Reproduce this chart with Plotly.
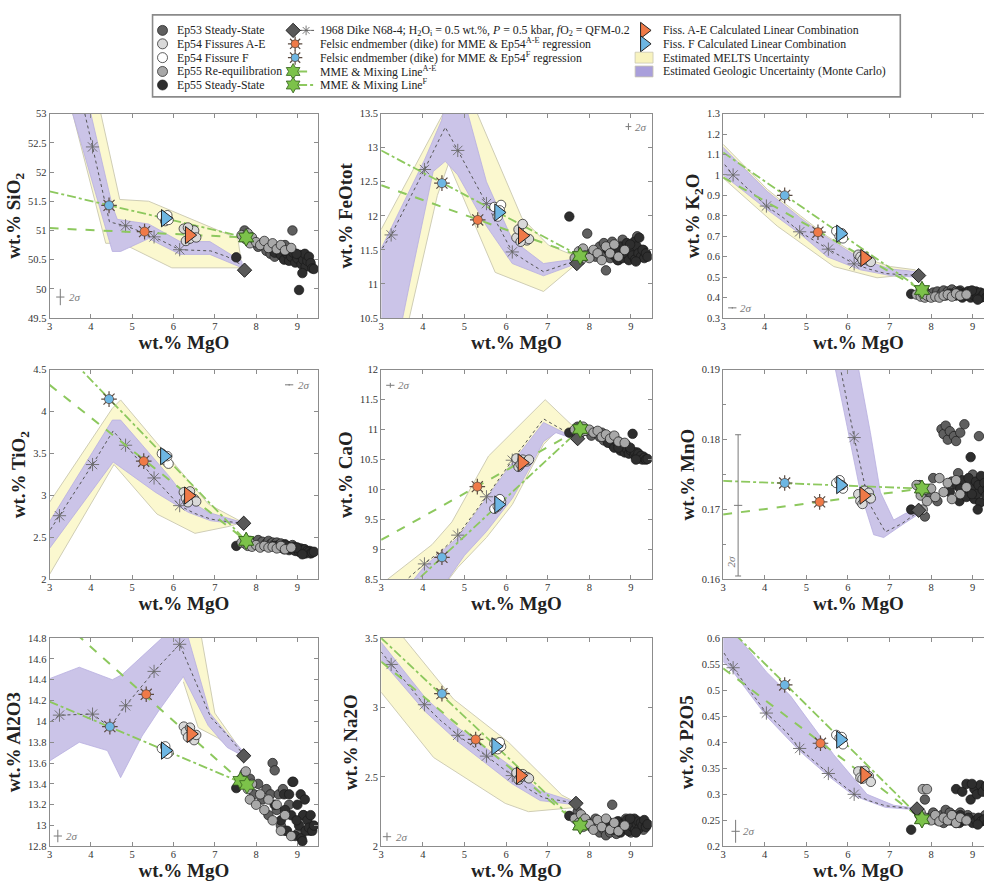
import plotly.graph_objects as go

W, H = 1000, 886
SERIF = "Liberation Serif"

# ---------------- shared MgO (x) values ----------------
MGO_EP55SS = [7.52, 8.45, 8.60, 8.68, 8.75, 8.80, 8.85, 8.90, 8.95, 9.00, 9.04, 9.08,
              9.10, 9.14, 9.18, 9.20, 9.24, 9.28, 9.32, 9.36, 9.40, 8.70, 8.98, 9.12]
MGO_EP53 = [7.72, 7.85, 7.95, 8.05, 8.15, 8.25, 8.30, 8.35, 8.40, 8.45,
            8.50, 8.55, 8.60, 8.65, 8.70, 8.80, 8.88, 9.00, 9.15, 9.30]
MGO_EP55RE = [7.65, 7.75, 7.80, 7.85, 7.90, 8.00, 8.10, 8.20, 8.30, 8.40, 8.50, 8.60, 8.70, 8.85]
MGO_EP54AE = [6.25, 6.30, 6.40, 6.50, 6.55, 6.35]
MGO_EP54F = [5.72, 5.80, 5.88, 5.85]
MGO_MELTS = [7.72, 7.30, 6.90, 6.50, 6.15, 5.53, 4.84, 4.54, 4.45, 4.04, 3.24, 3.00]
MELTS_CROSS_IDX = [4, 5, 6, 9, 10]
MGO_MIX_START = 3.0
X_TICKS = [3, 4, 5, 6, 7, 8, 9]

# ---------------- SiO2 ----------------
SIO2_EP55SS = [50.54, 50.62, 50.58, 50.50, 50.60, 50.48, 50.55, 50.62, 50.45, 50.52, 49.98, 50.58,
               50.42, 50.50, 50.60, 50.38, 50.48, 50.55, 50.44, 50.35, 50.34, 50.65, 50.60, 50.27]
SIO2_EP53 = [51.00, 50.85, 50.80, 50.72, 50.78, 50.65, 50.75, 50.60, 50.70, 50.55,
             50.72, 50.62, 50.68, 50.55, 50.75, 50.60, 51.00, 50.50, 50.55, 50.45]
SIO2_EP55RE = [50.92, 50.85, 50.95, 50.78, 50.88, 50.80, 50.75, 50.82, 50.70, 50.78, 50.68, 50.75, 50.66, 50.70]
SIO2_EP54AE = [51.03, 50.82, 50.86, 51.00, 50.88, 51.05]
SIO2_EP54F = [51.25, 51.16, 51.18, 51.26]
SIO2_MELTS = [50.38, 50.55, 50.65, 50.66, 50.67, 50.89, 51.08, 51.13, 51.15, 52.43, 54.90, 55.60]
SIO2_YEL_X = [3.93, 4.70, 5.40, 7.56, 7.66, 5.96, 4.76, 4.36, 3.20]
SIO2_YEL_Y = [54.0, 51.53, 51.50, 50.86, 50.36, 50.36, 50.78, 50.78, 54.0]
SIO2_PUR_X = [3.67, 4.52, 4.64, 5.40, 6.16, 6.88, 7.66, 7.66, 6.88, 6.16, 5.40, 4.72, 4.52, 3.15]
SIO2_PUR_Y = [54.0, 51.42, 51.19, 51.11, 50.81, 50.81, 50.47, 50.36, 50.59, 50.59, 50.86, 50.64, 50.64, 54.0]
SIO2_MIX_AE = [51.04, 50.88]
SIO2_MIX_F = [51.67, 50.88]
SIO2_MME_AE = [7.76, 50.88]
SIO2_MME_F = [7.76, 50.88]
SIO2_FELSIC_AE = [5.30, 50.98]
SIO2_FELSIC_F = [4.44, 51.43]
SIO2_TRI_AE = [6.38, 50.92]
SIO2_TRI_F = [5.80, 51.21]
SIO2_DIKE = [7.72, 50.32]
SIO2_ERR = [3.26, 49.86, 0.10, 0.14]
SIO2_ERR_LABEL = [3.42, 49.86]
SIO2_TICKS = [49.5, 50, 50.5, 51, 51.5, 52, 52.5, 53]

# ---------------- FeOtot ----------------
FEO_EP55SS = [11.99, 11.50, 11.42, 11.35, 11.55, 11.38, 11.45, 11.60, 11.35, 11.50, 11.42, 11.62,
              11.36, 11.55, 11.45, 11.68, 11.40, 11.50, 11.38, 11.45, 11.40, 11.48, 11.58, 11.33]
FEO_EP53 = [11.35, 11.42, 11.74, 11.45, 11.40, 11.55, 11.42, 11.60, 11.20, 11.50,
            11.38, 11.62, 11.45, 11.55, 11.35, 11.65, 11.42, 11.55, 11.70, 11.50]
FEO_EP55RE = [11.38, 11.48, 11.35, 11.52, 11.42, 11.38, 11.50, 11.45, 11.35, 11.55, 11.45, 11.58, 11.40, 11.50]
FEO_EP54AE = [11.68, 11.80, 11.88, 11.64, 11.66, 11.62]
FEO_EP54F = [12.13, 11.99, 12.16, 12.08]
FEO_MELTS = [11.35, 11.26, 11.18, 11.33, 11.47, 12.18, 12.96, 13.30, 13.19, 12.68, 11.72, 11.50]
FEO_YEL_X = [3.00, 4.50, 4.75, 5.10, 6.38, 7.02, 7.70, 7.70, 6.90, 5.74, 4.62, 4.35, 3.60, 3.00]
FEO_YEL_Y = [11.80, 13.50, 13.80, 13.80, 11.97, 11.57, 11.40, 11.30, 10.89, 11.17, 12.77, 12.30, 10.30, 10.30]
FEO_PUR_X = [3.00, 3.24, 4.04, 4.45, 4.60, 4.95, 5.53, 6.15, 6.90, 7.70, 7.70, 6.90, 6.15, 5.53, 4.84, 4.54, 4.25, 3.75, 3.45, 3.00]
FEO_PUR_Y = [11.52, 11.82, 12.82, 13.40, 13.80, 13.80, 12.50, 11.65, 11.30, 11.37, 11.30, 11.12, 11.30, 11.85, 12.60, 12.80, 12.65, 11.20, 10.30, 10.30]
FEO_MIX_AE = [12.45, 11.41]
FEO_MIX_F = [12.96, 11.41]
FEO_MME_AE = [7.78, 11.41]
FEO_MME_F = [7.78, 11.41]
FEO_FELSIC_AE = [5.32, 11.94]
FEO_FELSIC_F = [4.46, 12.48]
FEO_TRI_AE = [6.39, 11.71]
FEO_TRI_F = [5.82, 12.05]
FEO_DIKE = [7.70, 11.30]
FEO_ERR = [8.94, 13.31, 0.07, 0.05]
FEO_ERR_LABEL = [9.06, 13.31]
FEO_TICKS = [10.5, 11, 11.5, 12, 12.5, 13, 13.5]

# ---------------- K2O ----------------
K2O_EP55SS = [0.418, 0.420, 0.410, 0.430, 0.400, 0.420, 0.410, 0.430, 0.400, 0.420, 0.410, 0.430,
              0.400, 0.415, 0.425, 0.400, 0.410, 0.420, 0.400, 0.405, 0.395, 0.415, 0.435, 0.390]
K2O_EP53 = [0.420, 0.430, 0.415, 0.425, 0.430, 0.420, 0.435, 0.410, 0.430, 0.420,
            0.440, 0.420, 0.430, 0.415, 0.435, 0.420, 0.430, 0.410, 0.420, 0.410]
K2O_EP55RE = [0.415, 0.405, 0.420, 0.400, 0.410, 0.400, 0.405, 0.400, 0.410, 0.415, 0.405, 0.420, 0.410, 0.415]
K2O_EP54AE = [0.610, 0.600, 0.600, 0.580, 0.575, 0.585]
K2O_EP54F = [0.725, 0.700, 0.690, 0.715]
K2O_MELTS = [0.510, 0.512, 0.518, 0.540, 0.565, 0.637, 0.722, 0.775, 0.790, 0.848, 1.000, 1.060]
K2O_YEL_X = [3.00, 4.06, 4.86, 5.50, 6.30, 7.02, 7.62, 7.62, 7.10, 6.70, 5.66, 4.30, 3.00]
K2O_YEL_Y = [1.150, 0.930, 0.800, 0.700, 0.600, 0.552, 0.536, 0.513, 0.505, 0.497, 0.552, 0.750, 0.985]
K2O_PUR_X = [3.00, 4.06, 4.86, 5.50, 6.30, 7.02, 7.62, 7.62, 7.02, 6.30, 5.50, 4.86, 4.06, 3.00]
K2O_PUR_Y = [1.135, 0.920, 0.790, 0.694, 0.590, 0.540, 0.528, 0.500, 0.508, 0.536, 0.600, 0.710, 0.830, 1.000]
K2O_MIX_AE = [0.988, 0.437]
K2O_MIX_F = [1.110, 0.437]
K2O_MME_AE = [7.78, 0.437]
K2O_MME_F = [7.78, 0.437]
K2O_FELSIC_AE = [5.28, 0.720]
K2O_FELSIC_F = [4.48, 0.900]
K2O_TRI_AE = [6.40, 0.594]
K2O_TRI_F = [5.82, 0.713]
K2O_DIKE = [7.70, 0.508]
K2O_ERR = [3.22, 0.350, 0.10, 0.004]
K2O_ERR_LABEL = [3.36, 0.350]
K2O_TICKS = [0.3, 0.4, 0.5, 0.6, 0.7, 0.8, 0.9, 1.0, 1.1, 1.2, 1.3]

# ---------------- TiO2 ----------------
TIO2_EP55SS = [2.40, 2.40, 2.38, 2.36, 2.40, 2.35, 2.37, 2.39, 2.34, 2.36, 2.33, 2.37,
               2.32, 2.35, 2.36, 2.31, 2.34, 2.33, 2.31, 2.32, 2.33, 2.41, 2.38, 2.30]
TIO2_EP53 = [2.45, 2.46, 2.44, 2.47, 2.45, 2.43, 2.46, 2.42, 2.44, 2.42,
             2.44, 2.41, 2.43, 2.40, 2.42, 2.39, 2.41, 2.38, 2.36, 2.34]
TIO2_EP55RE = [2.44, 2.42, 2.40, 2.44, 2.39, 2.41, 2.38, 2.40, 2.38, 2.39, 2.37, 2.40, 2.36, 2.38]
TIO2_EP54AE = [3.04, 2.97, 3.05, 2.96, 2.93, 2.92]
TIO2_EP54F = [3.50, 3.42, 3.38, 3.47]
TIO2_MELTS = [2.67, 2.69, 2.72, 2.79, 2.88, 3.21, 3.60, 3.77, 3.70, 3.37, 2.76, 2.58]
TIO2_YEL_X = [3.00, 4.52, 4.72, 6.84, 7.60, 7.60, 7.32, 6.52, 5.60, 4.56, 3.00]
TIO2_YEL_Y = [2.92, 4.04, 4.14, 2.90, 2.70, 2.67, 2.63, 2.55, 2.78, 3.37, 2.06]
TIO2_PUR_X = [3.00, 4.52, 4.72, 5.88, 6.32, 6.84, 7.60, 7.60, 6.90, 6.36, 5.56, 4.54, 3.00]
TIO2_PUR_Y = [2.69, 3.90, 3.90, 3.24, 2.96, 2.80, 2.69, 2.66, 2.70, 2.80, 3.04, 3.40, 2.37]
TIO2_MIX_AE = [4.32, 2.46]
TIO2_MIX_F = [4.89, 2.46]
TIO2_MME_AE = [7.76, 2.46]
TIO2_MME_F = [7.76, 2.46]
TIO2_FELSIC_AE = [5.28, 3.41]
TIO2_FELSIC_F = [4.44, 4.15]
TIO2_TRI_AE = [6.36, 3.00]
TIO2_TRI_F = [5.78, 3.47]
TIO2_DIKE = [7.70, 2.67]
TIO2_ERR = [8.80, 4.32, 0.10, 0.01]
TIO2_ERR_LABEL = [8.96, 4.32]
TIO2_TICKS = [2, 2.5, 3, 3.5, 4, 4.5]

# ---------------- CaO ----------------
CAO_EP55SS = [10.95, 10.78, 10.70, 10.78, 10.65, 10.72, 10.62, 10.68, 10.60, 10.65, 10.93, 10.58,
              10.62, 10.55, 10.60, 10.52, 10.56, 10.50, 10.53, 10.50, 10.51, 10.70, 10.70, 10.50]
CAO_EP53 = [11.05, 11.00, 10.98, 10.90, 10.95, 10.88, 10.95, 10.82, 10.90, 10.80,
            10.88, 10.75, 10.82, 10.72, 10.80, 10.70, 10.75, 10.65, 10.62, 10.55]
CAO_EP55RE = [11.00, 11.03, 10.95, 11.05, 10.98, 11.00, 10.95, 10.98, 10.88, 10.92, 10.85, 10.90, 10.80, 10.78]
CAO_EP54AE = [10.52, 10.38, 10.50, 10.47, 10.50, 10.42]
CAO_EP54F = [9.68, 9.72, 9.80, 9.84]
CAO_MELTS = [10.85, 11.02, 11.18, 10.81, 10.49, 9.88, 9.24, 9.04, 8.99, 8.76, 8.27, 8.12]
CAO_YEL_X = [3.00, 4.22, 4.70, 5.58, 6.94, 7.74, 7.74, 7.20, 6.90, 6.15, 5.53, 4.84, 4.40, 3.00]
CAO_YEL_Y = [8.42, 9.08, 9.46, 10.56, 11.50, 10.97, 10.84, 10.97, 10.75, 9.75, 9.20, 8.70, 8.30, 8.30]
CAO_PUR_X = [3.55, 4.04, 4.84, 5.53, 6.15, 6.90, 7.72, 7.72, 7.20, 6.90, 6.60, 6.15, 5.53, 5.00, 4.40]
CAO_PUR_Y = [8.30, 8.72, 9.20, 9.85, 10.45, 11.12, 10.84, 10.82, 10.95, 10.80, 10.40, 9.85, 9.30, 8.90, 8.30]
CAO_MIX_AE = [9.16, 11.01]
CAO_MIX_F = [7.93, 11.01]
CAO_MME_AE = [7.78, 11.01]
CAO_MME_F = [7.78, 11.01]
CAO_FELSIC_AE = [5.31, 10.05]
CAO_FELSIC_F = [4.46, 8.87]
CAO_TRI_AE = [6.38, 10.45]
CAO_TRI_F = [5.82, 9.75]
CAO_DIKE = [7.72, 10.85]
CAO_ERR = [3.22, 11.74, 0.10, 0.04]
CAO_ERR_LABEL = [3.36, 11.74]
CAO_TICKS = [8.5, 9, 9.5, 10, 10.5, 11, 11.5, 12]

# ---------------- MnO ----------------
MNO_EP55SS = [0.1700, 0.1725, 0.1735, 0.1712, 0.1742, 0.1728, 0.1718, 0.1745, 0.1775, 0.1732, 0.1715, 0.1740,
              0.1722, 0.1735, 0.1710, 0.1748, 0.1728, 0.1738, 0.1720, 0.1730, 0.1742, 0.1730, 0.1722, 0.1700]
MNO_EP53 = [0.1735, 0.1690, 0.1725, 0.1745, 0.1712, 0.1815, 0.1808, 0.1820, 0.1800, 0.1812,
            0.1740, 0.1805, 0.1798, 0.1752, 0.1810, 0.1822, 0.1735, 0.1750, 0.1805, 0.1745]
MNO_EP55RE = [0.1735, 0.1720, 0.1700, 0.1728, 0.1712, 0.1730, 0.1718, 0.1745, 0.1725, 0.1738, 0.1715, 0.1742, 0.1722, 0.1732]
MNO_EP54AE = [0.1722, 0.1712, 0.1727, 0.1724, 0.1716, 0.1708]
MNO_EP54F = [0.1738, 0.1742, 0.1730, 0.1735]
MNO_MELTS = [0.1698, 0.1680, 0.1668, 0.1710, 0.1803, 0.1990, 0.2200, 0.2290, 0.2320, 0.2440, 0.2680, 0.2750]
MNO_PUR_X = [5.55, 5.70, 5.98, 6.30, 6.62, 6.86, 7.30, 7.66, 7.72, 7.40, 7.10, 6.78, 6.54, 6.26, 6.15]
MNO_PUR_Y = [0.196, 0.190, 0.1819, 0.1725, 0.1664, 0.1660, 0.1678, 0.1692, 0.1700, 0.1695, 0.1685, 0.1725, 0.1810, 0.1900, 0.1960]
MNO_MIX_AE = [0.1693, 0.1730]
MNO_MIX_F = [0.1741, 0.1730]
MNO_MME_AE = [7.78, 0.1730]
MNO_MME_F = [7.78, 0.1730]
MNO_FELSIC_AE = [5.32, 0.1711]
MNO_FELSIC_F = [4.48, 0.1738]
MNO_TRI_AE = [6.38, 0.1720]
MNO_TRI_F = [5.82, 0.1735]
MNO_DIKE = [7.70, 0.1699]
MNO_ERR = [3.36, 0.1706, 0.10, 0.0101]
MNO_ERR_LABEL = [3.18, 0.1625]
MNO_TICKS = [0.16, 0.17, 0.18, 0.19]
MNO_MINOR_DTICK = 0.005

# ---------------- Al2O3 ----------------
AL2O3_EP55SS = [13.36, 13.20, 13.05, 13.30, 12.95, 13.30, 13.10, 13.42, 12.90, 13.20, 13.00, 13.30,
                12.88, 13.10, 13.25, 12.95, 13.05, 12.98, 13.10, 12.95, 13.00, 13.15, 13.05, 12.85]
AL2O3_EP53 = [13.50, 13.45, 13.30, 13.40, 13.25, 13.35, 13.10, 13.30, 13.60, 13.53,
              13.15, 13.30, 13.00, 13.35, 12.95, 13.20, 13.42, 12.92, 13.10, 12.95]
AL2O3_EP55RE = [13.45, 13.52, 13.35, 13.25, 13.40, 13.20, 13.30, 13.15, 13.25, 13.05, 13.20, 12.95, 13.10, 12.90]
AL2O3_EP54AE = [13.95, 13.90, 13.94, 13.82, 13.87, 13.85]
AL2O3_EP54F = [13.74, 13.76, 13.70, 13.69]
AL2O3_MELTS = [13.67, 13.87, 14.04, 14.41, 14.74, 14.48, 14.15, 13.99, 13.95, 14.07, 14.06, 13.99]
AL2O3_YEL_X = [6.10, 6.72, 6.68, 7.00, 7.64, 7.64, 7.08, 6.60, 6.24]
AL2O3_YEL_Y = [15.00, 15.00, 14.80, 14.08, 13.72, 13.67, 13.84, 13.94, 14.38]
AL2O3_PUR_X = [3.00, 3.72, 4.52, 4.76, 5.72, 5.85, 6.30, 6.36, 6.88, 7.30, 7.72, 7.72, 7.30, 6.84, 6.24, 5.64, 5.24, 4.72, 4.40, 3.72, 3.00]
AL2O3_PUR_Y = [14.41, 14.52, 14.40, 14.45, 14.80, 15.00, 15.00, 14.80, 14.08, 13.88, 13.70, 13.66, 13.75, 13.96, 14.43, 14.10, 13.86, 13.46, 13.72, 13.80, 13.62]
AL2O3_MIX_AE = [15.07, 13.43]
AL2O3_MIX_F = [14.19, 13.39]
AL2O3_MME_AE = [7.62, 13.43]
AL2O3_MME_F = [7.78, 13.39]
AL2O3_FELSIC_AE = [5.34, 14.26]
AL2O3_FELSIC_F = [4.46, 13.95]
AL2O3_TRI_AE = [6.42, 13.88]
AL2O3_TRI_F = [5.80, 13.72]
AL2O3_DIKE = [7.70, 13.67]
AL2O3_ERR = [3.20, 12.90, 0.10, 0.06]
AL2O3_ERR_LABEL = [3.36, 12.90]
AL2O3_TICKS = [12.8, 13, 13.2, 13.4, 13.6, 13.8, 14, 14.2, 14.4, 14.6, 14.8]

# ---------------- Na2O ----------------
NA2O_EP55SS = [2.22, 2.15, 2.12, 2.18, 2.10, 2.16, 2.13, 2.19, 2.11, 2.17, 2.14, 2.20,
               2.12, 2.16, 2.18, 2.13, 2.17, 2.15, 2.19, 2.14, 2.16, 2.14, 2.20, 2.10]
NA2O_EP53 = [2.25, 2.20, 2.18, 2.14, 2.20, 2.10, 2.17, 2.12, 2.08, 2.18,
             2.10, 2.30, 2.15, 2.09, 2.18, 2.12, 2.20, 2.10, 2.15, 2.12]
NA2O_EP55RE = [2.20, 2.17, 2.23, 2.14, 2.20, 2.16, 2.12, 2.19, 2.14, 2.20, 2.12, 2.17, 2.11, 2.15]
NA2O_EP54AE = [2.53, 2.48, 2.52, 2.50, 2.49, 2.50]
NA2O_EP54F = [2.74, 2.70, 2.72, 2.75]
NA2O_MELTS = [2.31, 2.33, 2.35, 2.42, 2.51, 2.65, 2.80, 2.88, 2.90, 3.02, 3.31, 3.40]
NA2O_YEL_X = [3.00, 3.54, 4.74, 6.06, 7.34, 7.66, 7.66, 6.54, 5.98, 4.26, 3.00]
NA2O_YEL_Y = [3.70, 3.50, 3.06, 2.75, 2.37, 2.32, 2.28, 2.25, 2.31, 2.64, 3.11]
NA2O_PUR_X = [3.00, 4.06, 4.82, 5.50, 6.15, 6.82, 7.66, 7.66, 6.82, 6.15, 5.50, 4.86, 4.06, 3.00]
NA2O_PUR_Y = [3.47, 3.07, 2.86, 2.71, 2.57, 2.40, 2.32, 2.30, 2.33, 2.45, 2.60, 2.75, 2.97, 3.34]
NA2O_MIX_AE = [3.33, 2.15]
NA2O_MIX_F = [3.50, 2.15]
NA2O_MME_AE = [7.78, 2.15]
NA2O_MME_F = [7.78, 2.15]
NA2O_FELSIC_AE = [5.27, 2.77]
NA2O_FELSIC_F = [4.46, 3.10]
NA2O_TRI_AE = [6.34, 2.51]
NA2O_TRI_F = [5.75, 2.72]
NA2O_DIKE = [7.68, 2.31]
NA2O_ERR = [3.14, 2.07, 0.10, 0.03]
NA2O_ERR_LABEL = [3.30, 2.07]
NA2O_TICKS = [2, 2.5, 3, 3.5]

# ---------------- P2O5 ----------------
P2O5_EP55SS = [0.232, 0.250, 0.310, 0.245, 0.305, 0.250, 0.320, 0.255, 0.290, 0.245, 0.310, 0.250,
               0.300, 0.255, 0.318, 0.248, 0.305, 0.252, 0.315, 0.245, 0.250, 0.260, 0.320, 0.242]
P2O5_EP53 = [0.260, 0.290, 0.255, 0.265, 0.250, 0.260, 0.245, 0.270, 0.255, 0.265,
             0.250, 0.260, 0.245, 0.255, 0.265, 0.250, 0.260, 0.255, 0.250, 0.260]
P2O5_EP55RE = [0.270, 0.265, 0.310, 0.255, 0.310, 0.250, 0.260, 0.248, 0.255, 0.250, 0.260, 0.245, 0.255, 0.250]
P2O5_EP54AE = [0.344, 0.332, 0.345, 0.335, 0.324, 0.330]
P2O5_EP54F = [0.414, 0.408, 0.396, 0.410]
P2O5_MELTS = [0.271, 0.274, 0.278, 0.288, 0.300, 0.340, 0.388, 0.418, 0.425, 0.456, 0.543, 0.574]
P2O5_PUR_X = [3.00, 3.38, 4.04, 4.62, 5.66, 6.46, 7.10, 7.70, 7.70, 6.90, 6.15, 5.53, 4.84, 4.04, 3.24, 3.00]
P2O5_PUR_Y = [0.620, 0.600, 0.535, 0.489, 0.376, 0.300, 0.279, 0.273, 0.270, 0.275, 0.297, 0.335, 0.383, 0.450, 0.535, 0.555]
P2O5_MIX_AE = [0.542, 0.252]
P2O5_MIX_F = [0.630, 0.252]
P2O5_MME_AE = [7.78, 0.252]
P2O5_MME_F = [7.78, 0.252]
P2O5_FELSIC_AE = [5.34, 0.398]
P2O5_FELSIC_F = [4.48, 0.510]
P2O5_TRI_AE = [6.40, 0.337]
P2O5_TRI_F = [5.82, 0.405]
P2O5_DIKE = [7.66, 0.272]
P2O5_ERR = [3.30, 0.229, 0.10, 0.022]
P2O5_ERR_LABEL = [3.42, 0.229]
P2O5_TICKS = [0.2, 0.25, 0.3, 0.35, 0.4, 0.45, 0.5, 0.55, 0.6]

# ---------------- panel table built from the arrays ----------------
PANELS = [
    dict(t="wt.% SiO<sub>2</sub>", ss=SIO2_EP55SS, e53=SIO2_EP53, re=SIO2_EP55RE, ae=SIO2_EP54AE, f=SIO2_EP54F,
         melts=SIO2_MELTS, yel=(SIO2_YEL_X, SIO2_YEL_Y), pur=(SIO2_PUR_X, SIO2_PUR_Y), mixae=SIO2_MIX_AE, mixf=SIO2_MIX_F,
         mmeae=SIO2_MME_AE, mmef=SIO2_MME_F, fae=SIO2_FELSIC_AE, ff=SIO2_FELSIC_F, tae=SIO2_TRI_AE, tf=SIO2_TRI_F,
         dike=SIO2_DIKE, err=SIO2_ERR, errl=SIO2_ERR_LABEL, ticks=SIO2_TICKS, minor=None),
    dict(t="wt.% FeOtot", ss=FEO_EP55SS, e53=FEO_EP53, re=FEO_EP55RE, ae=FEO_EP54AE, f=FEO_EP54F,
         melts=FEO_MELTS, yel=(FEO_YEL_X, FEO_YEL_Y), pur=(FEO_PUR_X, FEO_PUR_Y), mixae=FEO_MIX_AE, mixf=FEO_MIX_F,
         mmeae=FEO_MME_AE, mmef=FEO_MME_F, fae=FEO_FELSIC_AE, ff=FEO_FELSIC_F, tae=FEO_TRI_AE, tf=FEO_TRI_F,
         dike=FEO_DIKE, err=FEO_ERR, errl=FEO_ERR_LABEL, ticks=FEO_TICKS, minor=None),
    dict(t="wt.% K<sub>2</sub>O", ss=K2O_EP55SS, e53=K2O_EP53, re=K2O_EP55RE, ae=K2O_EP54AE, f=K2O_EP54F,
         melts=K2O_MELTS, yel=(K2O_YEL_X, K2O_YEL_Y), pur=(K2O_PUR_X, K2O_PUR_Y), mixae=K2O_MIX_AE, mixf=K2O_MIX_F,
         mmeae=K2O_MME_AE, mmef=K2O_MME_F, fae=K2O_FELSIC_AE, ff=K2O_FELSIC_F, tae=K2O_TRI_AE, tf=K2O_TRI_F,
         dike=K2O_DIKE, err=K2O_ERR, errl=K2O_ERR_LABEL, ticks=K2O_TICKS, minor=None),
    dict(t="wt.% TiO<sub>2</sub>", ss=TIO2_EP55SS, e53=TIO2_EP53, re=TIO2_EP55RE, ae=TIO2_EP54AE, f=TIO2_EP54F,
         melts=TIO2_MELTS, yel=(TIO2_YEL_X, TIO2_YEL_Y), pur=(TIO2_PUR_X, TIO2_PUR_Y), mixae=TIO2_MIX_AE, mixf=TIO2_MIX_F,
         mmeae=TIO2_MME_AE, mmef=TIO2_MME_F, fae=TIO2_FELSIC_AE, ff=TIO2_FELSIC_F, tae=TIO2_TRI_AE, tf=TIO2_TRI_F,
         dike=TIO2_DIKE, err=TIO2_ERR, errl=TIO2_ERR_LABEL, ticks=TIO2_TICKS, minor=None),
    dict(t="wt.% CaO", ss=CAO_EP55SS, e53=CAO_EP53, re=CAO_EP55RE, ae=CAO_EP54AE, f=CAO_EP54F,
         melts=CAO_MELTS, yel=(CAO_YEL_X, CAO_YEL_Y), pur=(CAO_PUR_X, CAO_PUR_Y), mixae=CAO_MIX_AE, mixf=CAO_MIX_F,
         mmeae=CAO_MME_AE, mmef=CAO_MME_F, fae=CAO_FELSIC_AE, ff=CAO_FELSIC_F, tae=CAO_TRI_AE, tf=CAO_TRI_F,
         dike=CAO_DIKE, err=CAO_ERR, errl=CAO_ERR_LABEL, ticks=CAO_TICKS, minor=None),
    dict(t="wt.% MnO", ss=MNO_EP55SS, e53=MNO_EP53, re=MNO_EP55RE, ae=MNO_EP54AE, f=MNO_EP54F,
         melts=MNO_MELTS, yel=None, pur=(MNO_PUR_X, MNO_PUR_Y), mixae=MNO_MIX_AE, mixf=MNO_MIX_F,
         mmeae=MNO_MME_AE, mmef=MNO_MME_F, fae=MNO_FELSIC_AE, ff=MNO_FELSIC_F, tae=MNO_TRI_AE, tf=MNO_TRI_F,
         dike=MNO_DIKE, err=MNO_ERR, errl=MNO_ERR_LABEL, ticks=MNO_TICKS, minor=MNO_MINOR_DTICK),
    dict(t="wt.% Al2O3", ss=AL2O3_EP55SS, e53=AL2O3_EP53, re=AL2O3_EP55RE, ae=AL2O3_EP54AE, f=AL2O3_EP54F,
         melts=AL2O3_MELTS, yel=(AL2O3_YEL_X, AL2O3_YEL_Y), pur=(AL2O3_PUR_X, AL2O3_PUR_Y), mixae=AL2O3_MIX_AE, mixf=AL2O3_MIX_F,
         mmeae=AL2O3_MME_AE, mmef=AL2O3_MME_F, fae=AL2O3_FELSIC_AE, ff=AL2O3_FELSIC_F, tae=AL2O3_TRI_AE, tf=AL2O3_TRI_F,
         dike=AL2O3_DIKE, err=AL2O3_ERR, errl=AL2O3_ERR_LABEL, ticks=AL2O3_TICKS, minor=None),
    dict(t="wt.% Na2O", ss=NA2O_EP55SS, e53=NA2O_EP53, re=NA2O_EP55RE, ae=NA2O_EP54AE, f=NA2O_EP54F,
         melts=NA2O_MELTS, yel=(NA2O_YEL_X, NA2O_YEL_Y), pur=(NA2O_PUR_X, NA2O_PUR_Y), mixae=NA2O_MIX_AE, mixf=NA2O_MIX_F,
         mmeae=NA2O_MME_AE, mmef=NA2O_MME_F, fae=NA2O_FELSIC_AE, ff=NA2O_FELSIC_F, tae=NA2O_TRI_AE, tf=NA2O_TRI_F,
         dike=NA2O_DIKE, err=NA2O_ERR, errl=NA2O_ERR_LABEL, ticks=NA2O_TICKS, minor=None),
    dict(t="wt.% P2O5", ss=P2O5_EP55SS, e53=P2O5_EP53, re=P2O5_EP55RE, ae=P2O5_EP54AE, f=P2O5_EP54F,
         melts=P2O5_MELTS, yel=None, pur=(P2O5_PUR_X, P2O5_PUR_Y), mixae=P2O5_MIX_AE, mixf=P2O5_MIX_F,
         mmeae=P2O5_MME_AE, mmef=P2O5_MME_F, fae=P2O5_FELSIC_AE, ff=P2O5_FELSIC_F, tae=P2O5_TRI_AE, tf=P2O5_TRI_F,
         dike=P2O5_DIKE, err=P2O5_ERR, errl=P2O5_ERR_LABEL, ticks=P2O5_TICKS, minor=None),
]

# ---------------- styles ----------------
C_SS, C_53, C_RE, C_AE, C_F = "#2e2e2e", "#5f5f5f", "#a8a8a8", "#d9d9d9", "#ffffff"
C_ORANGE, C_BLUE = "#ef7a48", "#6db6e3"
C_SPIKE = "#5a4a40"
C_GREEN_LINE, C_GREEN_STAR, C_GREEN_EDGE = "#8dc85e", "#7cc24a", "#33601c"
C_YEL, C_YEL_EDGE = "#fbf8cf", "#cfcdb5"
C_PUR, C_PUR_EDGE = "#cbc4e8", "#b8afdf"
C_MELTS = "#555555"
C_CROSS = "#6a6a6a"
C_AXIS = "#8c8c8c"
C_ERR = "#7a7a7a"

COL_PX = [(46.7, 316.0), (379.3, 650.7), (722.3, 993.5)]
ROW_PX = [(110.0, 317.0), (369.3, 581.7), (641.0, 852.0)]

fig = go.Figure()


def scat(xa, ya, **kw):
    kw.setdefault("hoverinfo", "skip")
    kw.setdefault("showlegend", False)
    fig.add_trace(go.Scatter(xaxis=xa, yaxis=ya, **kw))


def felsic(xa, ya, pt, color, size_core=9, size_spike=13):
    scat(xa, ya, x=[pt[0]], y=[pt[1]], mode="markers",
         marker=dict(symbol="asterisk-open", size=size_spike, color=C_SPIKE, line=dict(color=C_SPIKE, width=1.2)))
    scat(xa, ya, x=[pt[0]], y=[pt[1]], mode="markers",
         marker=dict(symbol="circle", size=size_core, color=color, line=dict(color=C_SPIKE, width=0.8)))


def cloud(xa, ya, xs, ys, color):
    scat(xa, ya, x=xs, y=ys, mode="markers",
         marker=dict(symbol="circle", size=9.5, color=color, line=dict(color="#1a1a1a", width=0.7)))


for k, p in enumerate(PANELS):
    r, c = divmod(k, 3)
    xa = "x" if k == 0 else f"x{k+1}"
    ya = "y" if k == 0 else f"y{k+1}"
    if p["yel"] is not None:
        scat(xa, ya, x=p["yel"][0], y=p["yel"][1], mode="lines", fill="toself", fillcolor=C_YEL,
             line=dict(color=C_YEL_EDGE, width=1))
    scat(xa, ya, x=p["pur"][0], y=p["pur"][1], mode="lines", fill="toself", fillcolor=C_PUR,
         line=dict(color=C_PUR_EDGE, width=0.8))
    # MELTS liquid line of descent
    scat(xa, ya, x=MGO_MELTS, y=p["melts"], mode="lines", line=dict(color=C_MELTS, width=1, dash="dot"))
    scat(xa, ya, x=[MGO_MELTS[i] for i in MELTS_CROSS_IDX], y=[p["melts"][i] for i in MELTS_CROSS_IDX],
         mode="markers", marker=dict(symbol="asterisk-open", size=11, color=C_CROSS, line=dict(color=C_CROSS, width=0.9)))
    # mixing lines
    scat(xa, ya, x=[MGO_MIX_START, p["mmeae"][0]], y=p["mixae"], mode="lines",
         line=dict(color=C_GREEN_LINE, width=2, dash="dash"))
    scat(xa, ya, x=[MGO_MIX_START, p["mmef"][0]], y=p["mixf"], mode="lines",
         line=dict(color=C_GREEN_LINE, width=1.8, dash="dashdot"))
    # sample clouds
    cloud(xa, ya, MGO_EP53, p["e53"], C_53)
    cloud(xa, ya, MGO_EP55SS, p["ss"], C_SS)
    cloud(xa, ya, MGO_EP55RE, p["re"], C_RE)
    cloud(xa, ya, MGO_EP54AE, p["ae"], C_AE)
    cloud(xa, ya, MGO_EP54F, p["f"], C_F)
    # felsic endmembers
    felsic(xa, ya, p["fae"], C_ORANGE)
    felsic(xa, ya, p["ff"], C_BLUE)
    # calculated linear combinations
    for pt, col in ((p["tae"], C_ORANGE), (p["tf"], C_BLUE)):
        scat(xa, ya, x=[pt[0]], y=[pt[1]], mode="markers",
             marker=dict(symbol="triangle-right", size=15, color=col, line=dict(color="#222", width=1)))
    # 1968 dike
    scat(xa, ya, x=[p["dike"][0]], y=[p["dike"][1]], mode="markers",
         marker=dict(symbol="diamond", size=11, color="#595959", line=dict(color="#222", width=1)))
    # MME
    for pt in (p["mmeae"], p["mmef"]):
        scat(xa, ya, x=[pt[0]], y=[pt[1]], mode="markers",
             marker=dict(symbol="hexagram", size=13, color=C_GREEN_STAR, line=dict(color=C_GREEN_EDGE, width=0.8)))
    # 2 sigma
    e = p["err"]
    scat(xa, ya, x=[e[0]], y=[e[1]], mode="markers", marker=dict(size=1, color="rgba(0,0,0,0)"),
         error_x=dict(type="data", array=[e[2]], color=C_ERR, thickness=1, width=0),
         error_y=dict(type="data", array=[e[3]], color=C_ERR, thickness=1, width=3 if k == 5 else 0))
    fig.add_annotation(x=p["errl"][0], y=p["errl"][1], xref=xa, yref=ya, text="<i>2σ</i>", showarrow=False,
                       xanchor="center" if k == 5 else "left", textangle=-90 if k == 5 else 0,
                       font=dict(family=SERIF, size=11, color=C_ERR))

    x0, x1 = COL_PX[c]
    y0, y1 = ROW_PX[r]
    common = dict(showline=True, linecolor=C_AXIS, linewidth=1, mirror="ticks", ticks="inside", ticklen=4,
                  tickcolor=C_AXIS, showgrid=False, zeroline=False,
                  tickfont=dict(family=SERIF, size=10.5, color="#333"))
    fig.layout[("xaxis" if k == 0 else f"xaxis{k+1}")] = dict(
        domain=[x0 / W, x1 / W], range=[3, 9.5], anchor=ya, tickmode="array", tickvals=X_TICKS,
        ticktext=[str(v) for v in X_TICKS], ticklabelstandoff=-2,
        title=dict(text="<b>wt.% MgO</b>", font=dict(family=SERIF, size=19, color="#222"), standoff=0), **common)
    yax = dict(
        domain=[1 - y1 / H, 1 - y0 / H], range=[p["ticks"][0], p["ticks"][-1]], anchor=xa, tickmode="array",
        tickvals=p["ticks"], ticktext=[f"{v:g}" for v in p["ticks"]],
        title=dict(text=f"<b>{p['t']}</b>", font=dict(family=SERIF, size=19, color="#222"), standoff=2), **common)
    if p["minor"]:
        yax["minor"] = dict(dtick=p["minor"], tick0=p["ticks"][0], ticks="inside", ticklen=3, tickcolor=C_AXIS)
    fig.layout[("yaxis" if k == 0 else f"yaxis{k+1}")] = yax

# ---------------- legend (drawn in its own pixel-scaled axes) ----------------
LEG_BOX = [150, 10, 900, 93]          # left, top, right, bottom (px)
LEG_ROWS = [25.7, 39.3, 53.3, 67.3, 81.0]
LEG_COLX = [160, 291, 643]
LEG_TEXTX = [173, 316, 660]
LEG_TEXT_1 = ["Ep53 Steady-State", "Ep54 Fissures A-E", "Ep54 Fissure F", "Ep55 Re-equilibration", "Ep55 Steady-State"]
LEG_COL_1 = [C_53, C_AE, C_F, C_RE, C_SS]
LEG_TEXT_2 = ["1968 Dike N68-4; H<sub>2</sub>O<sub>i</sub> = 0.5 wt.%, <i>P</i> = 0.5 kbar, <i>f</i>O<sub>2</sub> = QFM-0.2",
              "Felsic endmember (dike) for MME & Ep54<sup>A-E</sup> regression",
              "Felsic endmember (dike) for MME & Ep54<sup>F</sup> regression",
              "MME & Mixing Line<sup>A-E</sup>",
              "MME & Mixing Line<sup>F</sup>"]
LEG_TEXT_3 = ["Fiss. A-E Calculated Linear Combination", "Fiss. F Calculated Linear Combination",
              "Estimated MELTS Uncertainty", "Estimated Geologic Uncertainty (Monte Carlo)"]

LX, LY = "x10", "y10"
fig.layout["xaxis10"] = dict(domain=[LEG_BOX[0] / W, LEG_BOX[2] / W], range=[LEG_BOX[0], LEG_BOX[2]],
                             visible=False, showticklabels=False, ticks="", fixedrange=True, anchor=LY)
fig.layout["yaxis10"] = dict(domain=[1 - LEG_BOX[3] / H, 1 - LEG_BOX[1] / H], range=[LEG_BOX[3], LEG_BOX[1]],
                             visible=False, showticklabels=False, ticks="", fixedrange=True, anchor=LX)
fig.add_shape(type="rect", xref="paper", yref="paper", x0=LEG_BOX[0] / W, x1=LEG_BOX[2] / W,
              y0=1 - LEG_BOX[3] / H, y1=1 - LEG_BOX[1] / H, line=dict(color="#8a8a8a", width=1.6),
              fillcolor="white", layer="below")

scat(LX, LY, x=[LEG_COLX[0]] * 5, y=LEG_ROWS, mode="markers",
     marker=dict(symbol="circle", size=10, color=LEG_COL_1, line=dict(color="#1a1a1a", width=0.7)))
# column 2
scat(LX, LY, x=[LEG_COLX[1] + 6, LEG_COLX[1] + 21], y=[LEG_ROWS[0]] * 2, mode="lines",
     line=dict(color=C_MELTS, width=1, dash="dot"))
scat(LX, LY, x=[LEG_COLX[1] + 13], y=[LEG_ROWS[0]], mode="markers",
     marker=dict(symbol="asterisk-open", size=8, color=C_CROSS, line=dict(color=C_CROSS, width=0.9)))
scat(LX, LY, x=[LEG_COLX[1]], y=[LEG_ROWS[0]], mode="markers",
     marker=dict(symbol="diamond", size=11, color="#595959", line=dict(color="#222", width=1)))
felsic(LX, LY, [LEG_COLX[1] + 2, LEG_ROWS[1]], C_ORANGE, 8, 12)
felsic(LX, LY, [LEG_COLX[1] + 2, LEG_ROWS[2]], C_BLUE, 8, 12)
scat(LX, LY, x=[LEG_COLX[1] + 5, LEG_COLX[1] + 21], y=[LEG_ROWS[3]] * 2, mode="lines",
     line=dict(color=C_GREEN_LINE, width=2, dash="dash"))
scat(LX, LY, x=[LEG_COLX[1] + 5, LEG_COLX[1] + 21], y=[LEG_ROWS[4]] * 2, mode="lines",
     line=dict(color=C_GREEN_LINE, width=1.8, dash="dashdot"))
scat(LX, LY, x=[LEG_COLX[1]] * 2, y=LEG_ROWS[3:5], mode="markers",
     marker=dict(symbol="hexagram", size=12, color=C_GREEN_STAR, line=dict(color=C_GREEN_EDGE, width=0.8)))
# column 3
scat(LX, LY, x=[LEG_COLX[2]] * 2, y=LEG_ROWS[0:2], mode="markers",
     marker=dict(symbol="triangle-right", size=14, color=[C_ORANGE, C_BLUE], line=dict(color="#222", width=1)))
for row, col in ((2, "#f8f3bf"), (3, "#a99fdb")):
    fig.add_shape(type="rect", xref=LX, yref=LY, x0=LEG_COLX[2] - 9, x1=LEG_COLX[2] + 9,
                  y0=LEG_ROWS[row] - 5.5, y1=LEG_ROWS[row] + 5.5, line=dict(color="#c9c6b0", width=0.8),
                  fillcolor=col)

for txts, tx in ((LEG_TEXT_1, LEG_TEXTX[0]), (LEG_TEXT_2, LEG_TEXTX[1]), (LEG_TEXT_3, LEG_TEXTX[2])):
    for t, yy in zip(txts, LEG_ROWS):
        fig.add_annotation(x=tx, y=yy, xref=LX, yref=LY, text=t, showarrow=False, xanchor="left",
                           yanchor="middle", font=dict(family=SERIF, size=11.8, color="#222"))

fig.update_layout(width=W, height=H, margin=dict(l=0, r=0, t=0, b=0), showlegend=False,
                  paper_bgcolor="white", plot_bgcolor="rgba(0,0,0,0)",
                  font=dict(family=SERIF, color="#222"))

fig.write_html("out.html", config={"displayModeBar": False},
               post_script="document.body.style.margin='0';document.body.style.overflow='hidden';")
